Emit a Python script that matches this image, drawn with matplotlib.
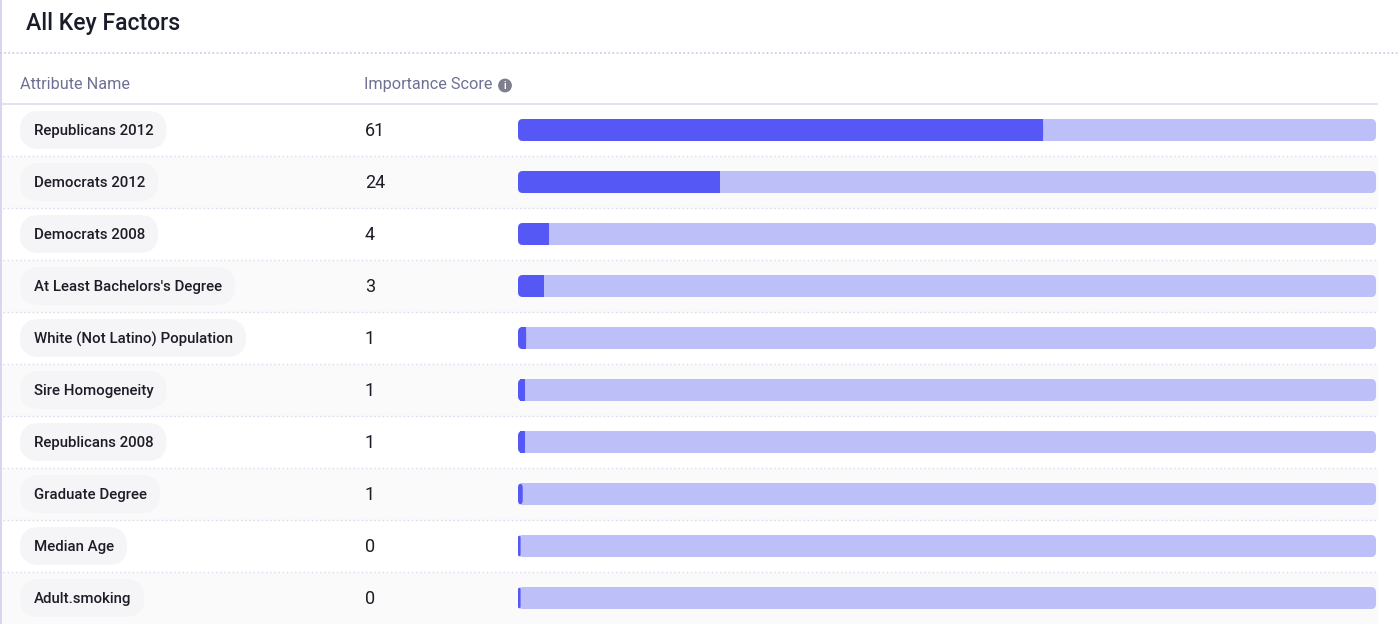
import matplotlib.pyplot as plt
from matplotlib.patches import FancyBboxPatch, Rectangle, Circle

plt.rcParams['font.family'] = ['Roboto', 'DejaVu Sans']

# table data
attributes = ["Republicans 2012", "Democrats 2012", "Democrats 2008",
              "At Least Bachelors's Degree", "White (Not Latino) Population",
              "Sire Homogeneity", "Republicans 2008", "Graduate Degree",
              "Median Age", "Adult.smoking"]
scores = [61.2, 23.5, 3.6, 3.0, 0.95, 0.8, 0.8, 0.55, 0.3, 0.3]
max_score = 100

W, H = 1400, 624
ROW_TOP, ROW_H = 104, 52
n = len(attributes)

DARK = "#5558f5"
LIGHT = "#bcbff8"
HEAD = "#6e7194"
SEP = "#d9d9f0"

fig = plt.figure(figsize=(W / 100, H / 100), dpi=100)
fig.patch.set_facecolor("white")

# background axes in pixel coordinates
ax = fig.add_axes([0, 0, 1, 1])
ax.set_xlim(0, W)
ax.set_ylim(H, 0)
ax.axis("off")

# left border and title
ax.plot([1, 1], [0, H], color="#d6d6ee", lw=1.5)
ax.text(26, 23.5, "All Key Factors", fontsize=16.6, fontweight="medium",
        color="#1b1c2a", va="center", ha="left")
ax.plot([0, W], [53, 53], color="#c8c8ec", lw=1.2, ls=(0, (1, 1.5)))

# header
ax.text(20, 84.5, "Attribute Name", fontsize=11.7, color=HEAD, va="center")
ax.text(364, 84.5, "Importance Score", fontsize=11.7, color=HEAD, va="center")
ax.add_patch(Circle((505, 85.5), 6.2, color="#7d7f8c"))
ax.text(505, 86, "i", fontsize=7, color="white", ha="center", va="center",
        fontweight="bold")
ax.plot([0, 1377], [ROW_TOP, ROW_TOP], color="#dcdcee", lw=1.2)

renderer = fig.canvas.get_renderer()
for i, (name, val) in enumerate(zip(attributes, scores)):
    y0 = ROW_TOP + i * ROW_H
    yc = y0 + ROW_H / 2
    if i % 2 == 1:
        ax.add_patch(Rectangle((3, y0 + 1), 1374, ROW_H - 1,
                               color="#fafafa", zorder=0))
    if i > 0:
        ax.plot([3, 1377], [y0, y0], color=SEP, lw=1, ls=(0, (1, 2)), zorder=1)
    t = ax.text(34, yc + 1, name, fontsize=10.8, fontweight="medium",
                color="#1c1d26", va="center", ha="left", zorder=3)
    bb = t.get_window_extent(renderer)
    ax.add_patch(FancyBboxPatch((20, yc - 19), (bb.x1 - 20) + 13, 38,
                                boxstyle="round,pad=0,rounding_size=19",
                                fc="#f5f5f8", ec="none", zorder=2))
    ax.text(365, yc + 0.5, str(int(val + 0.5)), fontsize=13, color="#1c1d26",
            va="center", ha="left", zorder=3)

# bar axes: 0..100 over the bar track
x_left, x_right = 518, 1376
bax = fig.add_axes([x_left / W, 0, (x_right - x_left) / W, (H - ROW_TOP) / H])
bax.set_xlim(0, max_score)
bax.set_ylim(n - 0.5, -0.5)
bax.axis("off")
bax.patch.set_alpha(0)

bar_h = 22 / ROW_H
aspect = (1 / ROW_H) / (max_score / (x_right - x_left))
rad = 5 * max_score / (x_right - x_left)
for i, val in enumerate(scores):
    bax.add_patch(FancyBboxPatch((0, i - bar_h / 2), max_score, bar_h,
                                 boxstyle=f"round,pad=0,rounding_size={rad}",
                                 mutation_aspect=aspect, fc=LIGHT, ec="none"))
    bax.add_patch(FancyBboxPatch((0, i - bar_h / 2), max(val, 0.3), bar_h,
                                 boxstyle=f"round,pad=0,rounding_size={min(rad, max(val, 0.3))}",
                                 mutation_aspect=aspect, fc=DARK, ec="none"))
    if val > rad:
        # square off the right end of the filled part
        bax.add_patch(Rectangle((val - rad, i - bar_h / 2), rad, bar_h,
                                fc=DARK, ec="none"))

fig.savefig("out.png", dpi=100, facecolor="white")
